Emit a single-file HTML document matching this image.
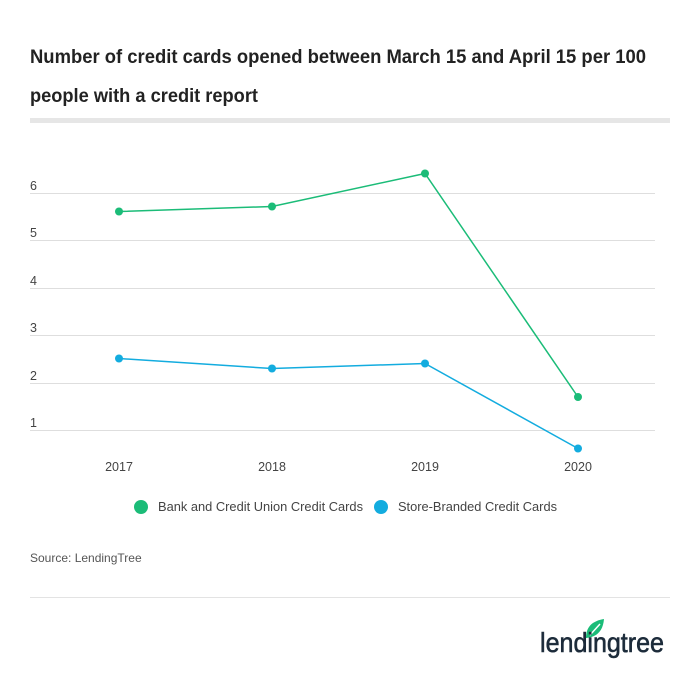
<!DOCTYPE html>
<html><head><meta charset="utf-8"><style>
body{margin:0;background:#fff;width:700px;height:679px;overflow:hidden;font-family:"Liberation Sans",sans-serif}
</style></head><body>
<svg width="700" height="679" xmlns="http://www.w3.org/2000/svg" font-family="Liberation Sans, sans-serif">
<text x="30" y="63" font-size="19" font-weight="bold" fill="#222" textLength="616" lengthAdjust="spacingAndGlyphs">Number of credit cards opened between March 15 and April 15 per 100</text>
<text x="30" y="102" font-size="19" font-weight="bold" fill="#222" textLength="228" lengthAdjust="spacingAndGlyphs">people with a credit report</text>
<rect x="30" y="118" width="640" height="5" fill="#e6e6e6"/>
<g stroke="#dedede" stroke-width="1">
<line x1="30" x2="655" y1="193.5" y2="193.5"/><line x1="30" x2="655" y1="240.5" y2="240.5"/>
<line x1="30" x2="655" y1="288.5" y2="288.5"/><line x1="30" x2="655" y1="335.5" y2="335.5"/>
<line x1="30" x2="655" y1="383.5" y2="383.5"/><line x1="30" x2="655" y1="430.5" y2="430.5"/>
</g>
<g font-size="12.5" fill="#444">
<text x="30" y="190">6</text><text x="30" y="237">5</text><text x="30" y="285">4</text>
<text x="30" y="332">3</text><text x="30" y="380">2</text><text x="30" y="427">1</text>
</g>
<g font-size="12.5" fill="#444" text-anchor="middle">
<text x="119" y="471">2017</text><text x="272" y="471">2018</text><text x="425" y="471">2019</text><text x="578" y="471">2020</text>
</g>
<polyline points="119,211.5 272,206.5 425,173.5 578,397" fill="none" stroke="#1bbc78" stroke-width="1.5"/>
<polyline points="119,358.5 272,368.5 425,363.5 578,448.5" fill="none" stroke="#13acdf" stroke-width="1.5"/>
<g fill="#1bbc78"><circle cx="119" cy="211.5" r="4"/><circle cx="272" cy="206.5" r="4"/><circle cx="425" cy="173.5" r="4"/><circle cx="578" cy="397" r="4"/></g>
<g fill="#13acdf"><circle cx="119" cy="358.5" r="4"/><circle cx="272" cy="368.5" r="4"/><circle cx="425" cy="363.5" r="4"/><circle cx="578" cy="448.5" r="4"/></g>
<circle cx="141" cy="507" r="7" fill="#1bbc78"/>
<text x="158" y="511" font-size="12.5" fill="#444" textLength="205" lengthAdjust="spacingAndGlyphs">Bank and Credit Union Credit Cards</text>
<circle cx="381" cy="507" r="7" fill="#13acdf"/>
<text x="398" y="511" font-size="12.5" fill="#444" textLength="159" lengthAdjust="spacingAndGlyphs">Store-Branded Credit Cards</text>
<text x="30" y="562" font-size="12" fill="#555">Source: LendingTree</text>
<line x1="30" x2="670" y1="597.5" y2="597.5" stroke="#e3e3e3"/>
<path d="M586,638 C586,627 592,621 604,619 C603,631 597,637 586,638 Z" fill="#1bbc78"/>
<path d="M590,635 L600,624" stroke="#fff" stroke-width="1.5"/>
<text x="540" y="652" font-size="28" fill="#1c2b3a" stroke="#1c2b3a" stroke-width="0.6" textLength="124" lengthAdjust="spacingAndGlyphs">lendingtree</text>
</svg>
</body></html>
